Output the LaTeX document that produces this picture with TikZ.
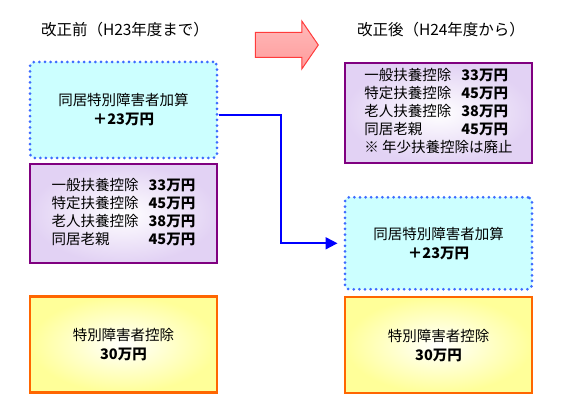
\documentclass[tikz,border=0pt]{standalone}
\usepackage{fontspec}
\setmainfont{Noto Sans CJK JP}
\usetikzlibrary{arrows.meta,positioning,shapes.arrows}

\definecolor{cyanfill}{HTML}{CCFFFF}
\definecolor{dotblue}{HTML}{3D6BFF}
\definecolor{purpline}{HTML}{800080}
\definecolor{purpfill}{HTML}{E2D2F4}
\definecolor{orangeline}{HTML}{FF6600}
\definecolor{yelfill}{HTML}{FFFF99}
\definecolor{arrowline}{HTML}{FF3B3B}
\definecolor{arrowfill}{HTML}{FF9C9C}

\begin{document}
\begin{tikzpicture}[
  x=1pt, y=-1pt,
  node distance=4pt,
  title/.style={font=\fontsize{15.5}{18}\selectfont, inner sep=0pt},
  box/.style={align=center, font=\fontsize{14.5}{19}\selectfont,
              minimum width=187pt, minimum height=96pt, inner sep=0pt},
  cyanbox/.style={box, fill=cyanfill, draw=dotblue, line width=3pt,
                  dash pattern=on 0pt off 5.6pt, line cap=round, rounded corners=4pt},
  purpbox/.style={box, font=\fontsize{14.5}{18}\selectfont, draw=purpline,
                  line width=1.6pt, inner color=white, outer color=purpfill},
  yelbox/.style={box, draw=orangeline, line width=2.6pt,
                 inner color=white, outer color=yelfill},
  conn/.style={-{Triangle[length=12pt,width=12pt]}, blue, line width=2pt}
]
\useasboundingbox (0,0) rectangle (574,419);

% before the revision
\node[title] (titleL) at (125,30) {改正前（H23年度まで）};
\node[cyanbox] (cyanL) at (123.5,110) {同居特別障害者加算\\\textbf{＋23万円}};
\node[purpbox, minimum height=99pt, below=4pt of cyanL] (purpL)
  {\begin{tabular}{@{}l@{\hspace{10pt}}l@{}}
   一般扶養控除 & \textbf{33万円}\\
   特定扶養控除 & \textbf{45万円}\\
   老人扶養控除 & \textbf{38万円}\\
   同居老親     & \textbf{45万円}
   \end{tabular}};
\node[yelbox, below=31pt of purpL] (yelL) {特別障害者控除\\\textbf{30万円}};

% big arrow
\node[single arrow, draw=arrowline, line width=1pt, top color=arrowfill!70!white,
      bottom color=arrowfill, minimum height=63pt, inner sep=12pt,
      single arrow head extend=11.5pt, single arrow tip angle=111] (bigarrow)
      at (282.5,45) {};

% after the revision
\node[title] (titleR) at (441,30) {改正後（H24年度から）};
\node[purpbox, minimum height=100pt] (purpR) at (438.5,113)
  {\begin{tabular}{@{}l@{\hspace{10pt}}l@{}}
   一般扶養控除 & \textbf{33万円}\\
   特定扶養控除 & \textbf{45万円}\\
   老人扶養控除 & \textbf{38万円}\\
   同居老親     & \textbf{45万円}\\
   \multicolumn{2}{@{}l@{}}{※ 年少扶養控除は廃止}
   \end{tabular}};
\node[cyanbox, minimum height=92pt, below=32pt of purpR] (cyanR)
  {同居特別障害者加算\\\textbf{＋23万円}};
\node[yelbox, below=5pt of cyanR] (yelR) {特別障害者控除\\\textbf{30万円}};

\draw[conn, shorten >=6pt] ([yshift=-5pt]cyanL.east) -- ++(62,0) |- (cyanR.west);
\end{tikzpicture}
\end{document}
